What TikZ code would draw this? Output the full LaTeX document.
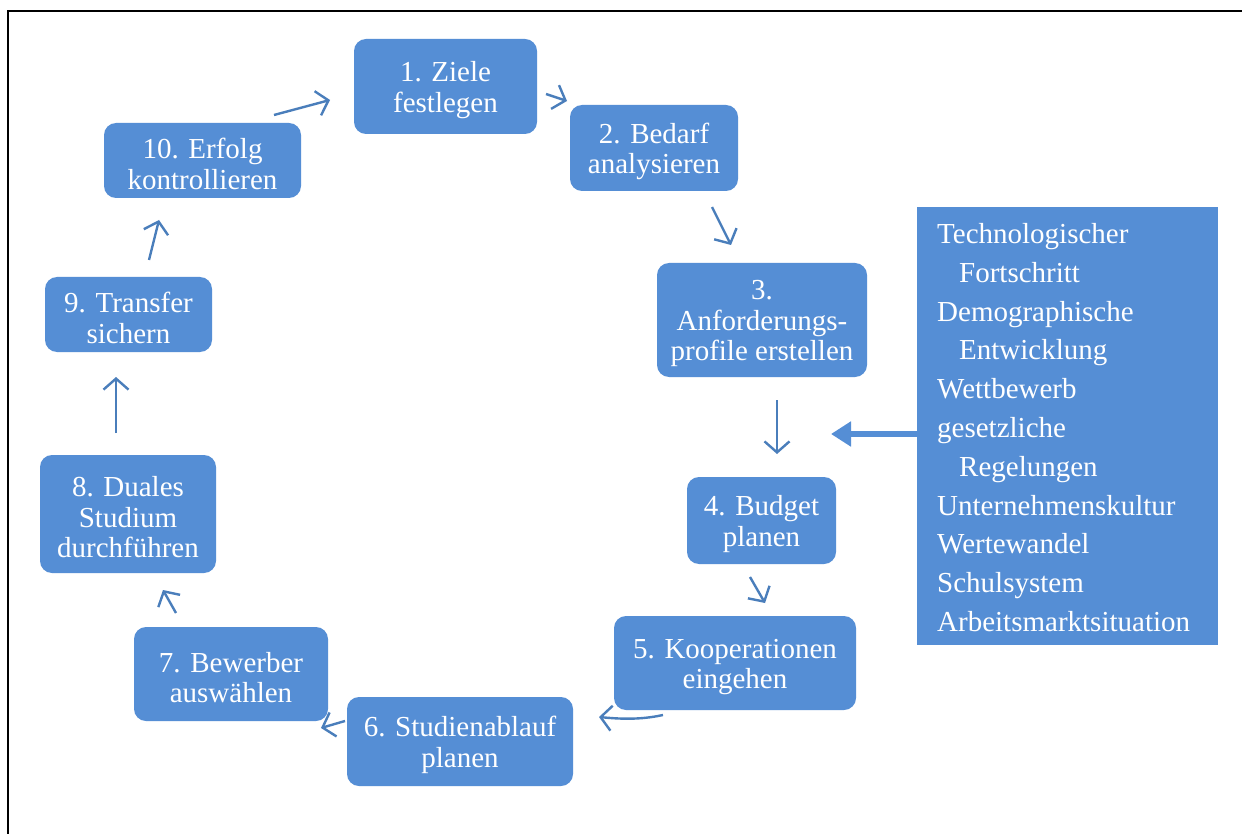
\documentclass[tikz,border=0pt]{standalone}
\usepackage{fontspec}
\setmainfont{Liberation Serif}
\usetikzlibrary{arrows.meta}
\definecolor{boxblue}{RGB}{85,142,213}
\definecolor{arrblue}{RGB}{74,126,187}
\newcommand{\mystrut}{\rule{0pt}{27pt}}
\tikzset{
  stepbox/.style={fill=boxblue, rounded corners=12pt, text=white, align=center,
    font=\fontsize{29}{30.5}\selectfont, inner sep=0pt},
  flowarrow/.style={draw=arrblue, line width=2.4pt, -{Straight Barb[length=11pt,width=25pt,line width=2.4pt]}},
  bigarrow/.style={draw=boxblue, line width=6pt, -{Triangle[length=20pt,width=24pt]}},
}
\begin{document}
\begin{tikzpicture}[x=1pt,y=-1pt]
\useasboundingbox (0,0) rectangle (1242,834);
\fill[white] (0,0) rectangle (1242,834);
% frame (top and left edges)
\draw[line width=2.2pt, black] (1242,11) -- (8,11) -- (8,834);

\node[stepbox, minimum width=183pt, minimum height=95pt] (n1) at (445.5,86.5) {\mystrut 1. Ziele\\festlegen};
\node[stepbox, minimum width=168pt, minimum height=86pt] (n2) at (654,148) {\mystrut 2. Bedarf\\analysieren};
\node[stepbox, minimum width=210pt, minimum height=114pt] (n3) at (762,320) {\mystrut 3.\\Anforderungs-\\profile erstellen};
\node[stepbox, minimum width=149pt, minimum height=87pt] (n4) at (761.5,520.5) {\mystrut 4. Budget\\planen};
\node[stepbox, minimum width=242pt, minimum height=94pt] (n5) at (735,663) {\mystrut 5. Kooperationen\\eingehen};
\node[stepbox, minimum width=226pt, minimum height=89pt] (n6) at (460,741.5) {\mystrut 6. Studienablauf\\planen};
\node[stepbox, minimum width=194pt, minimum height=94pt] (n7) at (231,674) {\mystrut 7. Bewerber\\auswählen};
\node[stepbox, minimum width=176pt, minimum height=118pt] (n8) at (128,514) {\mystrut 8. Duales\\Studium\\durchführen};
\node[stepbox, minimum width=167pt, minimum height=75pt] (n9) at (128.5,314.5) {\mystrut 9. Transfer\\sichern};
\node[stepbox, minimum width=197pt, minimum height=75pt] (n10) at (202.5,160.5) {\mystrut 10. Erfolg\\kontrollieren};

\node[fill=boxblue, text=white, anchor=north west, minimum width=301pt, minimum height=438pt,
      text width=261pt, inner xsep=20pt, inner ysep=0pt, align=left,
      font=\fontsize{29}{38.8}\selectfont] (factors) at (917,207)
 {\rule{0pt}{23pt}Technologischer\\\hspace*{22pt}Fortschritt\\Demographische\\\hspace*{22pt}Entwicklung\\Wettbewerb\\gesetzliche\\\hspace*{22pt}Regelungen\\Unternehmenskultur\\Wertewandel\\Schulsystem\\Arbeitsmarktsituation};

% arrow coordinates
\coordinate (a1s) at (274,115); \coordinate (a1e) at (330,100);
\coordinate (a2s) at (546,94);  \coordinate (a2e) at (567,101);
\coordinate (a3s) at (712,207); \coordinate (a3e) at (731,245);
\coordinate (a4s) at (777,400); \coordinate (a4e) at (777,454);
\coordinate (a5s) at (750,577); \coordinate (a5e) at (765,603);
\coordinate (a6s) at (663,715); \coordinate (a6e) at (599,717);
\coordinate (a7s) at (345,721); \coordinate (a7e) at (321,728);
\coordinate (a8s) at (176,613); \coordinate (a8e) at (163,590);
\coordinate (a9s) at (116,433); \coordinate (a9e) at (116,377);
\coordinate (a10s) at (149,260); \coordinate (a10e) at (159,220);
\coordinate (bige) at (831,434);

\draw[flowarrow] (a1s) -- (a1e);
\draw[flowarrow] (a2s) -- (a2e);
\draw[flowarrow] (a3s) -- (a3e);
\draw[flowarrow] (a4s) -- (a4e);
\draw[flowarrow] (a5s) -- (a5e);
\draw[flowarrow] (a6s) .. controls (640,720) and (620,719) .. (a6e);
\draw[flowarrow] (a7s) -- (a7e);
\draw[flowarrow] (a8s) -- (a8e);
\draw[flowarrow] (a9s) -- (a9e);
\draw[flowarrow] (a10s) -- (a10e);
\draw[bigarrow] (factors.west |- bige) -- (bige);
\end{tikzpicture}
\end{document}
